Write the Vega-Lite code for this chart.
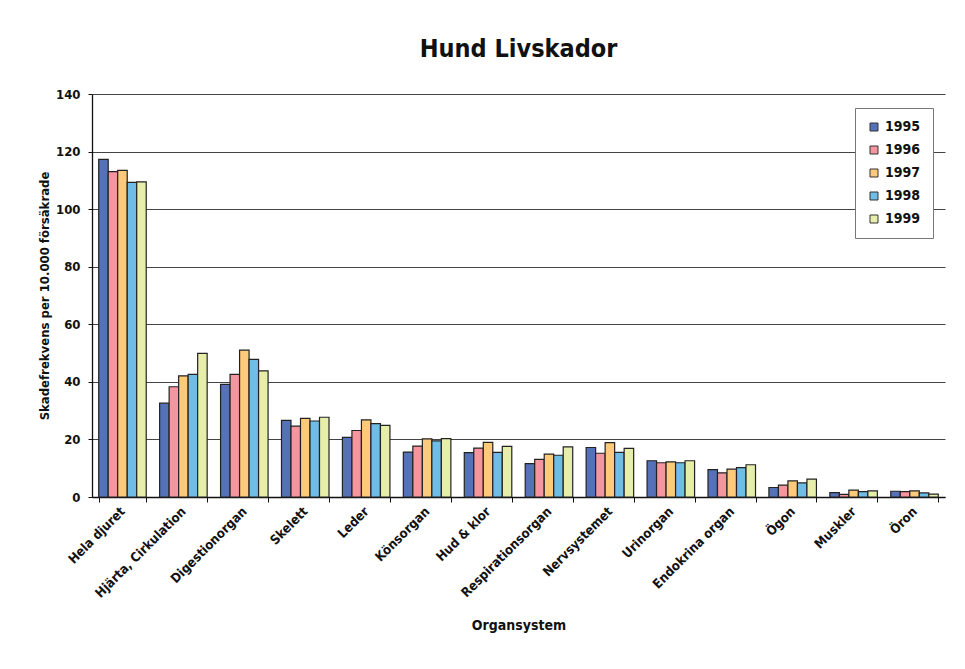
{
  "$schema": "https://vega.github.io/schema/vega-lite/v6.json",
  "autosize": {"type": "none"},
  "width": 853,
  "height": 403,
  "padding": {"left": 92, "top": 94, "right": 20, "bottom": 172},
  "background": "white",
  "title": {
    "text": "Hund Livskador",
    "fontSize": 25,
    "font": "'Liberation Sans Narrow', 'DejaVu Sans Condensed', sans-serif",
    "fontWeight": "bold",
    "color": "#111",
    "offset": 26,
    "anchor": "middle"
  },
  "config": {
    "view": {"stroke": null},
    "font": "'Liberation Sans Narrow', 'DejaVu Sans Condensed', sans-serif"
  },
  "data": {
    "values": [
      {"organ": "Hela djuret", "year": "1995", "value": 117.3},
      {"organ": "Hela djuret", "year": "1996", "value": 113.0},
      {"organ": "Hela djuret", "year": "1997", "value": 113.5},
      {"organ": "Hela djuret", "year": "1998", "value": 109.3},
      {"organ": "Hela djuret", "year": "1999", "value": 109.5},
      {"organ": "Hjärta, Cirkulation", "year": "1995", "value": 32.6},
      {"organ": "Hjärta, Cirkulation", "year": "1996", "value": 38.3},
      {"organ": "Hjärta, Cirkulation", "year": "1997", "value": 42.1},
      {"organ": "Hjärta, Cirkulation", "year": "1998", "value": 42.6},
      {"organ": "Hjärta, Cirkulation", "year": "1999", "value": 49.9},
      {"organ": "Digestionorgan", "year": "1995", "value": 39.1},
      {"organ": "Digestionorgan", "year": "1996", "value": 42.6},
      {"organ": "Digestionorgan", "year": "1997", "value": 51.0},
      {"organ": "Digestionorgan", "year": "1998", "value": 47.8},
      {"organ": "Digestionorgan", "year": "1999", "value": 43.8},
      {"organ": "Skelett", "year": "1995", "value": 26.6},
      {"organ": "Skelett", "year": "1996", "value": 24.6},
      {"organ": "Skelett", "year": "1997", "value": 27.3},
      {"organ": "Skelett", "year": "1998", "value": 26.4},
      {"organ": "Skelett", "year": "1999", "value": 27.7},
      {"organ": "Leder", "year": "1995", "value": 20.7},
      {"organ": "Leder", "year": "1996", "value": 23.1},
      {"organ": "Leder", "year": "1997", "value": 26.8},
      {"organ": "Leder", "year": "1998", "value": 25.5},
      {"organ": "Leder", "year": "1999", "value": 24.9},
      {"organ": "Könsorgan", "year": "1995", "value": 15.6},
      {"organ": "Könsorgan", "year": "1996", "value": 17.7},
      {"organ": "Könsorgan", "year": "1997", "value": 20.2},
      {"organ": "Könsorgan", "year": "1998", "value": 19.5},
      {"organ": "Könsorgan", "year": "1999", "value": 20.3},
      {"organ": "Hud & klor", "year": "1995", "value": 15.4},
      {"organ": "Hud & klor", "year": "1996", "value": 17.0},
      {"organ": "Hud & klor", "year": "1997", "value": 19.0},
      {"organ": "Hud & klor", "year": "1998", "value": 15.5},
      {"organ": "Hud & klor", "year": "1999", "value": 17.6},
      {"organ": "Respirationsorgan", "year": "1995", "value": 11.6},
      {"organ": "Respirationsorgan", "year": "1996", "value": 13.1},
      {"organ": "Respirationsorgan", "year": "1997", "value": 14.9},
      {"organ": "Respirationsorgan", "year": "1998", "value": 14.5},
      {"organ": "Respirationsorgan", "year": "1999", "value": 17.4},
      {"organ": "Nervsystemet", "year": "1995", "value": 17.2},
      {"organ": "Nervsystemet", "year": "1996", "value": 15.2},
      {"organ": "Nervsystemet", "year": "1997", "value": 18.9},
      {"organ": "Nervsystemet", "year": "1998", "value": 15.5},
      {"organ": "Nervsystemet", "year": "1999", "value": 16.9},
      {"organ": "Urinorgan", "year": "1995", "value": 12.6},
      {"organ": "Urinorgan", "year": "1996", "value": 11.9},
      {"organ": "Urinorgan", "year": "1997", "value": 12.2},
      {"organ": "Urinorgan", "year": "1998", "value": 11.9},
      {"organ": "Urinorgan", "year": "1999", "value": 12.6},
      {"organ": "Endokrina organ", "year": "1995", "value": 9.5},
      {"organ": "Endokrina organ", "year": "1996", "value": 8.4},
      {"organ": "Endokrina organ", "year": "1997", "value": 9.7},
      {"organ": "Endokrina organ", "year": "1998", "value": 10.2},
      {"organ": "Endokrina organ", "year": "1999", "value": 11.2},
      {"organ": "Ögon", "year": "1995", "value": 3.3},
      {"organ": "Ögon", "year": "1996", "value": 4.1},
      {"organ": "Ögon", "year": "1997", "value": 5.6},
      {"organ": "Ögon", "year": "1998", "value": 4.9},
      {"organ": "Ögon", "year": "1999", "value": 6.2},
      {"organ": "Muskler", "year": "1995", "value": 1.5},
      {"organ": "Muskler", "year": "1996", "value": 0.9},
      {"organ": "Muskler", "year": "1997", "value": 2.4},
      {"organ": "Muskler", "year": "1998", "value": 1.9},
      {"organ": "Muskler", "year": "1999", "value": 2.1},
      {"organ": "Öron", "year": "1995", "value": 2.0},
      {"organ": "Öron", "year": "1996", "value": 1.9},
      {"organ": "Öron", "year": "1997", "value": 2.1},
      {"organ": "Öron", "year": "1998", "value": 1.4},
      {"organ": "Öron", "year": "1999", "value": 1.0}
    ]
  },
  "mark": {"type": "bar", "stroke": "#222", "strokeWidth": 1.2},
  "encoding": {
    "x": {
      "field": "organ",
      "type": "nominal",
      "sort": null,
      "scale": {"paddingInner": 0.22, "paddingOuter": 0.11},
      "axis": {
        "title": "Organsystem",
        "titleFontSize": 14,
        "titleFontWeight": "bold",
        "titleColor": "#111",
        "titlePadding": 18,
        "labelAngle": -45,
        "labelAlign": "right",
        "labelBaseline": "middle",
        "labelFontSize": 13,
        "labelFontWeight": "bold",
        "labelColor": "#111",
        "labelPadding": 7,
        "tickBand": "extent",
        "tickColor": "#111",
        "tickSize": 5,
        "domainColor": "#111",
        "domainWidth": 1.3
      }
    },
    "xOffset": {"field": "year", "type": "nominal", "scale": {"paddingInner": 0}},
    "y": {
      "field": "value",
      "type": "quantitative",
      "scale": {"domain": [0, 140]},
      "axis": {
        "title": "Skadefrekvens per 10.000 försäkrade",
        "titleFontSize": 13,
        "titleFontWeight": "bold",
        "titleColor": "#111",
        "titlePadding": 4,
        "values": [0, 20, 40, 60, 80, 100, 120, 140],
        "labelFontSize": 13,
        "labelFontWeight": "bold",
        "labelColor": "#111",
        "labelPadding": 8,
        "tickColor": "#111",
        "tickSize": 4,
        "domainColor": "#111",
        "domainWidth": 1.3,
        "grid": true,
        "gridColor": "#444",
        "gridWidth": 1.2
      }
    },
    "color": {
      "field": "year",
      "type": "nominal",
      "scale": {
        "domain": ["1995", "1996", "1997", "1998", "1999"],
        "range": ["#5572b8", "#f4959f", "#fdc97a", "#6fbce6", "#e7eeaa"]
      },
      "legend": {
        "title": null,
        "orient": "none",
        "legendX": 763,
        "legendY": 14,
        "direction": "vertical",
        "fillColor": "white",
        "strokeColor": "#777",
        "padding": 12,
        "symbolType": "square",
        "symbolSize": 64,
        "symbolStrokeColor": "#333",
        "symbolStrokeWidth": 1,
        "labelFontSize": 14,
        "labelFontWeight": "bold",
        "labelColor": "#111",
        "rowPadding": 9,
        "labelOffset": 4
      }
    }
  }
}
